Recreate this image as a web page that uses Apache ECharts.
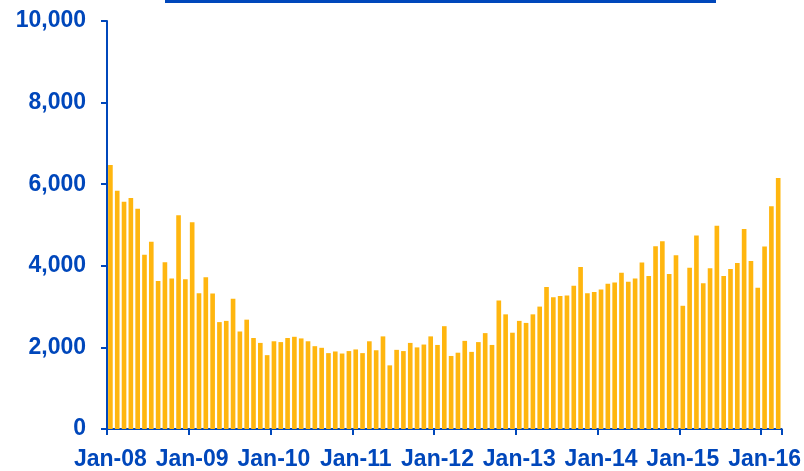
<!DOCTYPE html>
<html>
<head>
<meta charset="utf-8">
<script src="https://cdn.jsdelivr.net/npm/echarts@6/dist/echarts.min.js"></script>
<style>
  html, body { margin: 0; padding: 0; background: #fff; }
  #chart { width: 804px; height: 471px; }
</style>
</head>
<body>
<div id="chart"></div>
<script>
// monthly values, Jan-08 .. Mar-16
const values = [
  6470, 5840, 5570, 5660, 5400, 4270, 4590, 3630, 4090, 3690, 5240, 3670,
  5070, 3330, 3720, 3320, 2620, 2650, 3190, 2390, 2680, 2230, 2110, 1810,
  2150, 2130, 2230, 2260, 2220, 2150, 2030, 1990, 1860, 1900, 1850, 1910,
  1950, 1860, 2150, 1930, 2270, 1560, 1940, 1910, 2110, 2000, 2070, 2270,
  2060, 2520, 1790, 1870, 2160, 1890, 2130, 2350, 2060, 3150, 2810, 2360,
  2650, 2600, 2810, 3000, 3480, 3230, 3260, 3270, 3510, 3970, 3330, 3360,
  3420, 3560, 3590, 3830, 3610, 3690, 4080, 3750, 4480, 4600, 3800, 4260,
  3020, 3950, 4740, 3570, 3940, 4980, 3750, 3920, 4070, 4900, 4120, 3460,
  4470, 5460, 6150
]
const months = ['Jan', 'Feb', 'Mar', 'Apr', 'May', 'Jun', 'Jul', 'Aug', 'Sep', 'Oct', 'Nov', 'Dec']
const years = ['08', '09', '10', '11', '12', '13', '14', '15', '16']
const yTicks = [0, 2000, 4000, 6000, 8000, 10000]

const categories = []
years.forEach(y => months.forEach(m => categories.push(m + '-' + y)))
categories.length = values.length

const blue = '#0047bb'
const font = 'Liberation Sans, Arial, sans-serif'

const chart = echarts.init(document.getElementById('chart'))
chart.setOption({
  animation: false,
  graphic: [{
    type: 'rect',
    shape: { x: 165, y: 0, width: 551, height: 3 },
    style: { fill: blue }
  }],
  grid: { left: 107, right: 21, top: 21, bottom: 37, containLabel: false },
  xAxis: {
    type: 'category',
    data: categories,
    axisLine: { lineStyle: { color: blue, width: 2 } },
    axisTick: { show: true, interval: 11, length: 6, lineStyle: { color: blue, width: 2 } },
    axisLabel: {
      interval: 11,
      color: blue,
      fontSize: 23,
      fontWeight: 'bold',
      fontFamily: font,
      margin: 19
    },
    splitLine: { show: false }
  },
  yAxis: {
    type: 'value',
    min: yTicks[0],
    max: yTicks[yTicks.length - 1],
    interval: 2000,
    axisLine: { show: true, lineStyle: { color: blue, width: 2 } },
    axisTick: { show: true, length: 6, lineStyle: { color: blue, width: 2 } },
    axisLabel: {
      color: blue,
      fontSize: 23,
      fontWeight: 'bold',
      fontFamily: font,
      margin: 21,
      formatter: v => v.toLocaleString('en-US')
    },
    splitLine: { show: false }
  },
  series: [{
    type: 'bar',
    data: values,
    barWidth: '68%',
    itemStyle: { color: '#ffb60f' }
  }]
})
</script>
</body>
</html>
